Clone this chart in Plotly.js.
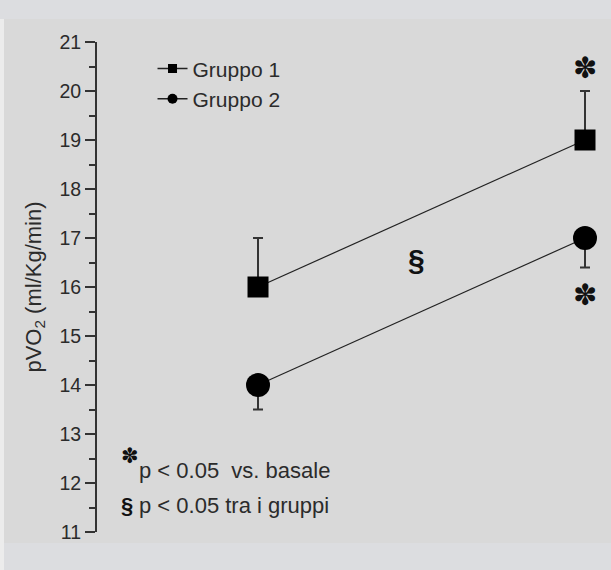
<!DOCTYPE html>
<html>
<head>
<meta charset="utf-8">
<script src="https://cdn.plot.ly/plotly-3.0.1.min.js"></script>
<style>
  html, body { margin:0; padding:0; background:#dcdde0; width:611px; height:570px; overflow:hidden; }
  #leftstrip { position:absolute; left:0; top:19px; width:4px; height:551px; background:#ececec; }
  #panel { position:absolute; left:4px; top:19px; width:607px; height:524px; background:#d9d9d9; }
  #chart { position:absolute; left:0; top:0; width:611px; height:570px; }
</style>
</head>
<body>
<div id="leftstrip"></div>
<div id="panel"></div>
<div id="chart"></div>
<script>
// ---- data ----
const seriesNames = ['Gruppo 1', 'Gruppo 2'];
const timepoints = [1, 2];
const gruppo1 = [16, 19];
const gruppo1ErrUp = [1, 1];
const gruppo2 = [14, 17];
const gruppo2ErrDown = [0.5, 0.6];
const yTickVals = [11, 12, 13, 14, 15, 16, 17, 18, 19, 20, 21];
const yTickText = ['11', '12', '13', '14', '15', '16', '17', '18', '19', '20', '21'];
const yTitle = 'pVO<sub>2</sub> (ml/Kg/min)';
const sigVsBaseline = [[2, 20.47], [2, 15.84]];
const sigBetween = [1.485, 16.57];
const noteBaseline = 'p &lt; 0.05\u00a0\u00a0vs. basale';
const noteBetween = 'p &lt; 0.05 tra i gruppi';

const ink = '#2b2b2b';
const font = 'Arial, "Liberation Sans", sans-serif';
const starFont = '"DejaVu Sans", "Noto Sans", sans-serif';

const traces = [
  {
    x: timepoints, y: gruppo1, mode: 'lines+markers', name: seriesNames[0], showlegend: false,
    cliponaxis: false,
    line: {color: '#222', width: 1.2},
    marker: {symbol: 'square', size: 21, color: '#000'},
    error_y: {type: 'data', symmetric: false, array: gruppo1ErrUp, arrayminus: [0, 0],
              color: '#333', thickness: 2, width: 5}
  },
  {
    x: timepoints, y: gruppo2, mode: 'lines+markers', name: seriesNames[1], showlegend: false,
    cliponaxis: false,
    line: {color: '#222', width: 1.2},
    marker: {symbol: 'circle', size: 24, color: '#000'},
    error_y: {type: 'data', symmetric: false, array: [0, 0], arrayminus: gruppo2ErrDown,
              color: '#333', thickness: 2, width: 5}
  },
  // legend entries (no points)
  {x: [null], y: [null], mode: 'lines+markers', name: seriesNames[0],
   line: {color: '#222', width: 1.5}, marker: {symbol: 'square', size: 9, color: '#000'}},
  {x: [null], y: [null], mode: 'lines+markers', name: seriesNames[1],
   line: {color: '#222', width: 1.5}, marker: {symbol: 'circle', size: 10, color: '#000'}}
];

const annotations = [];
sigVsBaseline.forEach(p => annotations.push({
  x: p[0], y: p[1], xref: 'x', yref: 'y', text: '✽', showarrow: false,
  font: {family: starFont, size: 29, color: '#111'}
}));
annotations.push({
  x: sigBetween[0], y: sigBetween[1], xref: 'x', yref: 'y', text: '<b>§</b>', showarrow: false,
  font: {family: font, size: 30, color: '#111'}
});
annotations.push({
  x: 0.0642, y: 0.155, xref: 'paper', yref: 'paper', text: '✽', showarrow: false,
  xanchor: 'center', yanchor: 'middle',
  font: {family: starFont, size: 21, color: '#111'}
});
annotations.push({
  x: 0.077, y: 0.126, xref: 'paper', yref: 'paper', text: noteBaseline, showarrow: false,
  xanchor: 'left', yanchor: 'middle', font: {family: font, size: 22, color: ink}
});
annotations.push({
  x: 0.058, y: 0.055, xref: 'paper', yref: 'paper', text: '<b>§</b>', showarrow: false,
  xanchor: 'center', yanchor: 'middle', font: {family: font, size: 22, color: '#111'}
});
annotations.push({
  x: 0.077, y: 0.055, xref: 'paper', yref: 'paper', text: noteBetween, showarrow: false,
  xanchor: 'left', yanchor: 'middle', font: {family: font, size: 22, color: ink}
});

const layout = {
  width: 611, height: 570,
  margin: {l: 97, r: 0, t: 42, b: 38},
  paper_bgcolor: 'rgba(0,0,0,0)',
  plot_bgcolor: 'rgba(0,0,0,0)',
  font: {family: font, color: ink},
  showlegend: true,
  legend: {
    x: 0.108, y: 0.987, xanchor: 'left', yanchor: 'top',
    bgcolor: 'rgba(0,0,0,0)', borderwidth: 0,
    font: {family: font, size: 21, color: ink},
    tracegroupgap: 0
  },
  xaxis: {
    range: [0.5076, 2.0795], visible: false, showgrid: false, zeroline: false, fixedrange: true
  },
  yaxis: {
    range: [11, 21], tickvals: yTickVals, ticktext: yTickText,
    ticks: 'outside', ticklen: 10, tickwidth: 2, tickcolor: '#333',
    showline: true, linecolor: '#333', linewidth: 2,
    showgrid: false, zeroline: false,
    tickfont: {family: font, size: 19.5, color: ink},
    minor: {dtick: 0.5, tick0: 11, ticks: 'outside', ticklen: 6, tickwidth: 2, tickcolor: '#333', showgrid: false},
    title: {text: yTitle, font: {family: font, size: 22, color: ink}, standoff: 12}
  },
  annotations: annotations
};

Plotly.newPlot('chart', traces, layout, {displayModeBar: false, staticPlot: true});
</script>
</body>
</html>
